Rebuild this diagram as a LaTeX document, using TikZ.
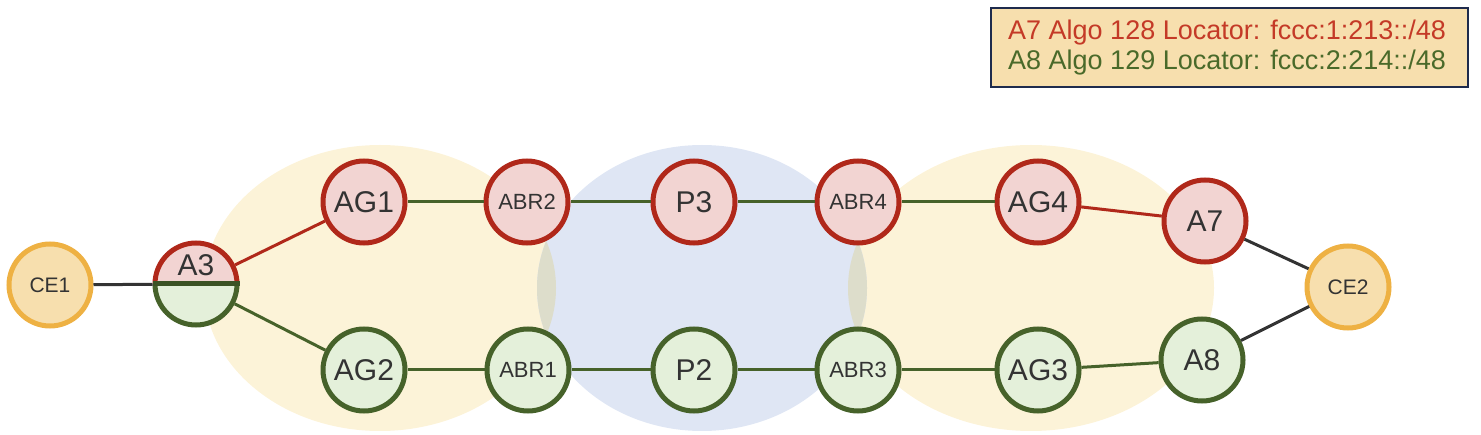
\documentclass[tikz,border=0pt]{standalone}
\usepackage{fontspec}
\setmainfont{Liberation Sans}
\definecolor{ylw}{HTML}{FCF3D8}
\definecolor{blu}{HTML}{DFE6F4}
\definecolor{ovl}{HTML}{DDDDCB}
\definecolor{rstroke}{HTML}{B0281A}
\definecolor{rfill}{HTML}{F2D4D2}
\definecolor{gstroke}{HTML}{46622A}
\definecolor{gfill}{HTML}{E4F0DA}
\definecolor{ostroke}{HTML}{EEB143}
\definecolor{ofill}{HTML}{F7DFAE}
\definecolor{navy}{HTML}{1E2B4D}
\definecolor{txt}{HTML}{333333}
\definecolor{legred}{HTML}{C43A27}
\definecolor{leggreen}{HTML}{4A6A2A}
\tikzset{
  rtr/.style={circle, draw=rstroke, fill=rfill, line width=5pt, minimum size=82pt, inner sep=0pt, text=txt},
  gtr/.style={circle, draw=gstroke, fill=gfill, line width=5pt, minimum size=82pt, inner sep=0pt, text=txt},
  otr/.style={circle, draw=ostroke, fill=ofill, line width=5pt, minimum size=82pt, inner sep=0pt, text=txt, font=\fontsize{21}{25}\selectfont},
  big/.style={font=\fontsize{30}{36}\selectfont},
  small/.style={font=\fontsize{22}{26}\selectfont},
  rlink/.style={draw=rstroke, line width=3pt},
  glink/.style={draw=gstroke, line width=3pt},
  dlink/.style={draw=txt, line width=3pt}
}
\begin{document}
\begin{tikzpicture}[x=1pt,y=-1pt]
\useasboundingbox (0,0) rectangle (1481,435);
% areas
\fill[ylw] (380,288) ellipse[x radius=176, y radius=143];
\fill[ylw] (1031,288) ellipse[x radius=183, y radius=143];
\fill[blu] (702,288) ellipse[x radius=165, y radius=143];
\begin{scope}
  \clip (380,288) ellipse[x radius=176, y radius=143];
  \fill[ovl] (702,288) ellipse[x radius=165, y radius=143];
\end{scope}
\begin{scope}
  \clip (1031,288) ellipse[x radius=183, y radius=143];
  \fill[ovl] (702,288) ellipse[x radius=165, y radius=143];
\end{scope}
% nodes
\node[otr] (CE1) at (50,285) {CE1};
\node[otr] (CE2) at (1348,287) {CE2};
\node[circle, minimum size=82pt, inner sep=0pt, outer sep=2.5pt] (A3) at (196,284) {};
\fill[rfill] (A3.center) ++(-41,0) arc[start angle=180, end angle=360, radius=41] -- cycle;
\fill[gfill] (A3.center) ++(-41,0) arc[start angle=180, end angle=0, radius=41] -- cycle;
\draw[gstroke, line width=5pt] (A3.center) ++(-41,0) arc[start angle=180, end angle=0, radius=41];
\draw[rstroke, line width=5pt] (A3.center) ++(-41,0) arc[start angle=180, end angle=360, radius=41];
\draw[gstroke!85!black, line width=5pt] (A3.center) ++(-43.5,0) -- ++(87,0);
\node[big, text=txt] (A3lbl) at (196,265) {A3};
\node[rtr, big] (AG1) at (364,202) {AG1};
\node[rtr, small] (ABR2) at (527,202) {ABR2};
\node[rtr, big] (P3) at (694,202) {P3};
\node[rtr, small] (ABR4) at (858,202) {ABR4};
\node[rtr, big] (AG4) at (1038,202) {AG4};
\node[rtr, big] (A7) at (1205,221) {A7};
\node[gtr, big] (AG2) at (364,370) {AG2};
\node[gtr, small] (ABR1) at (528,370) {ABR1};
\node[gtr, big] (P2) at (694,370) {P2};
\node[gtr, small] (ABR3) at (858,370) {ABR3};
\node[gtr, big] (AG3) at (1038,370) {AG3};
\node[gtr, big] (A8) at (1202,360) {A8};
% links
\draw[dlink] (CE1) -- (A3);
\draw[rlink] (A3) -- (AG1);
\draw[glink] (A3) -- (AG2);
\draw[glink] (AG1) -- (ABR2);
\draw[glink] (ABR2) -- (P3);
\draw[glink] (P3) -- (ABR4);
\draw[glink] (ABR4) -- (AG4);
\draw[rlink] (AG4) -- (A7);
\draw[glink] (AG2) -- (ABR1);
\draw[glink] (ABR1) -- (P2);
\draw[glink] (P2) -- (ABR3);
\draw[glink] (ABR3) -- (AG3);
\draw[glink] (AG3) -- (A8);
\draw[dlink] (A7) -- (CE2);
\draw[dlink] (A8) -- (CE2);
% legend
\node[draw=navy, fill=ofill, line width=2.5pt, minimum width=477pt, minimum height=79pt, inner sep=0pt] (legend) at (1229.5,47.5) {};
\node[anchor=west, inner sep=0pt, align=left, font=\fontsize{27}{30}\selectfont] (legtext) at (1008,48)
  {\textcolor{legred}{A7 Algo 128 Locator: fccc:1:213::/48}\\\textcolor{leggreen}{A8 Algo 129 Locator: fccc:2:214::/48}};
\end{tikzpicture}
\end{document}
